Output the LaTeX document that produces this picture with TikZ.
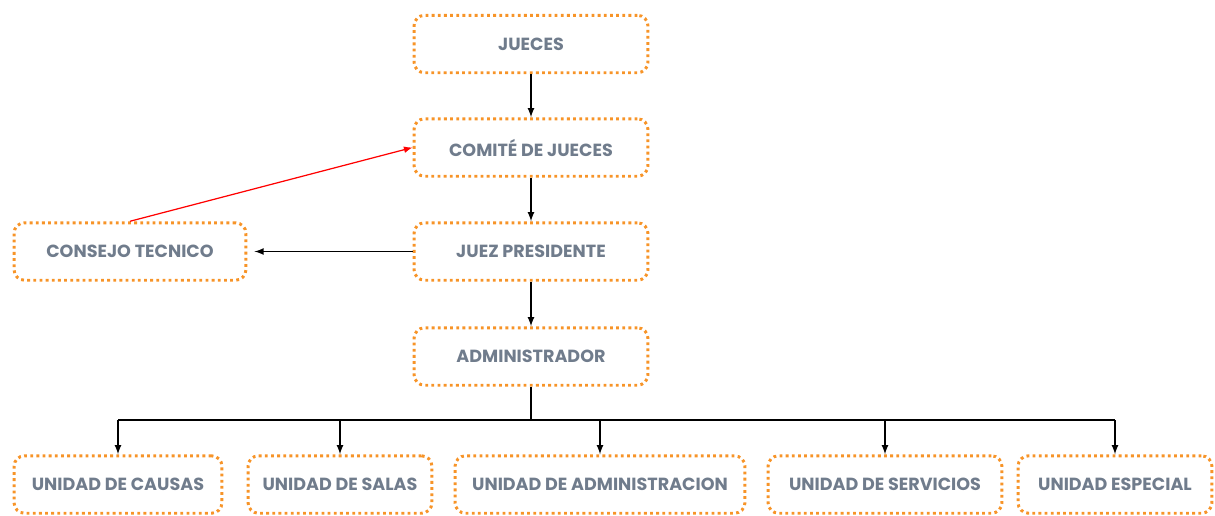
\documentclass[tikz,border=0pt]{standalone}
\usepackage{fontspec}
\setmainfont{Poppins}
\usetikzlibrary{arrows}
\definecolor{boxorange}{RGB}{247,148,40}
\definecolor{labelgray}{RGB}{112,124,140}
\tikzset{
  orgbox/.style={draw=boxorange,line width=1.7pt,dash pattern=on 1.6pt off 1.9pt,rounded corners=6pt,
    minimum height=1.15cm,text=labelgray,font=\fontsize{10}{12}\selectfont\bfseries,inner sep=0pt},
  link/.style={->,>=latex,line width=0.8pt,black}
}
\begin{document}
\begin{tikzpicture}[x=0.02cm,y=-0.02cm]
\useasboundingbox (0,0) rectangle (1215,515);
% \draw[help lines] (0,0) grid (1215,515);
\node (jueces) [orgbox,minimum width=4.68cm] at (531,44) {JUECES};
\node (comite) [orgbox,minimum width=4.68cm] at (531,147.5) {COMITÉ DE JUECES};
\node (juez) [orgbox,minimum width=4.68cm] at (531,251.5) {JUEZ PRESIDENTE};
\node (consejo) [orgbox,minimum width=4.64cm] at (130,251.5) {CONSEJO TECNICO};
\node (admin) [orgbox,minimum width=4.68cm] at (531,356.5) {ADMINISTRADOR};
%
\node (causas) [orgbox,minimum width=4.16cm] at (118,484.5) {UNIDAD DE CAUSAS};
\node (salas) [orgbox,minimum width=3.68cm] at (340,484.5) {UNIDAD DE SALAS};
\node (uadmin) [orgbox,minimum width=5.8cm] at (600,484.5) {UNIDAD DE ADMINISTRACION};
\node (servicios) [orgbox,minimum width=4.68cm] at (885,484.5) {UNIDAD DE SERVICIOS};
\node (especial) [orgbox,minimum width=3.88cm] at (1115,484.5) {UNIDAD ESPECIAL};
\coordinate (bus) at (531,420);
%
\path[link] (jueces) edge (comite);
\path[link] (comite) edge (juez);
\path[link] (juez) edge (admin);
\path[link] (juez.west) edge ([xshift=4pt]consejo.east);
\path[link,red,line width=0.7pt] (consejo.north) edge (comite.west);
\draw[line width=0.8pt] (admin.south) -- (bus);
\draw[line width=0.8pt] (bus -| causas) -- (bus -| especial);
\foreach \u in {causas,salas,uadmin,servicios,especial}
  \path[link] (bus -| \u) edge (\u.north);
\end{tikzpicture}
\end{document}
